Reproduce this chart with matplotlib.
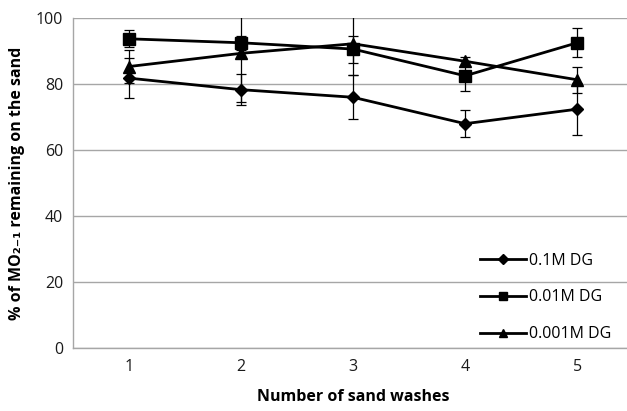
import matplotlib.pyplot as plt
from matplotlib.lines import Line2D

plt.rcParams['font.family'] = ['Open Sans', 'DejaVu Sans']

washes = [1, 2, 3, 4, 5]
labels = ['0.1M DG', '0.01M DG', '0.001M DG']

dg_01 = [81.8, 78.3, 76.0, 68.0, 72.4]
dg_01_err = [6.1, 4.7, 6.6, 4.1, 7.8]

dg_001 = [93.7, 92.5, 90.6, 82.5, 92.5]
dg_001_err = [2.6, 2.2, 4.1, 4.6, 4.4]

dg_0001 = [85.3, 89.3, 92.2, 86.9, 81.3]
dg_0001_err = [5.0, 14.8, 9.5, 1.2, 4.0]

fig = plt.figure(figsize=(6.27, 4.11), dpi=100)
ax = fig.add_axes([0.116, 0.1526, 0.894, 0.8036])

grey = '#a6a6a6'
ax.grid(axis='y', color=grey, linewidth=1.0)
ax.set_axisbelow(True)

handles = []
for vals, errs, mk, ms, lab in [
    (dg_01, dg_01_err, 'D', 6, labels[0]),
    (dg_001, dg_001_err, 's', 8, labels[1]),
    (dg_0001, dg_0001_err, '^', 8, labels[2]),
]:
    ax.errorbar(washes, vals, yerr=errs, color='black', linewidth=2.0,
                marker=mk, markersize=ms, elinewidth=0.9, capsize=3.5,
                capthick=0.9)
    handles.append(Line2D([], [], color='black', linewidth=2.0, marker=mk,
                          markersize=ms * 0.8, label=lab))

ax.set_xlim(0.5, 5.5)
ax.set_ylim(0, 100)
ax.set_yticks([0, 20, 40, 60, 80, 100])
ax.set_xticks(washes)
ax.tick_params(length=0, labelsize=11.5, colors='#1a1a1a', pad=8)
ax.tick_params(axis='y', pad=7)

for s in ['top', 'right']:
    ax.spines[s].set_visible(False)
for s in ['left', 'bottom']:
    ax.spines[s].set_color(grey)
    ax.spines[s].set_linewidth(1.0)

ax.set_xlabel('Number of sand washes', fontsize=11.5, fontweight='bold', labelpad=10)
ax.set_ylabel('% of MO₂₋₁ remaining on the sand', fontsize=11.5, fontweight='bold', labelpad=8)

ax.legend(handles=handles, loc='lower right', bbox_to_anchor=(0.987, -0.025),
          frameon=False, fontsize=11.5, handlelength=2.9, labelspacing=1.3,
          handletextpad=0.2)

plt.savefig('out.png', dpi=100)
